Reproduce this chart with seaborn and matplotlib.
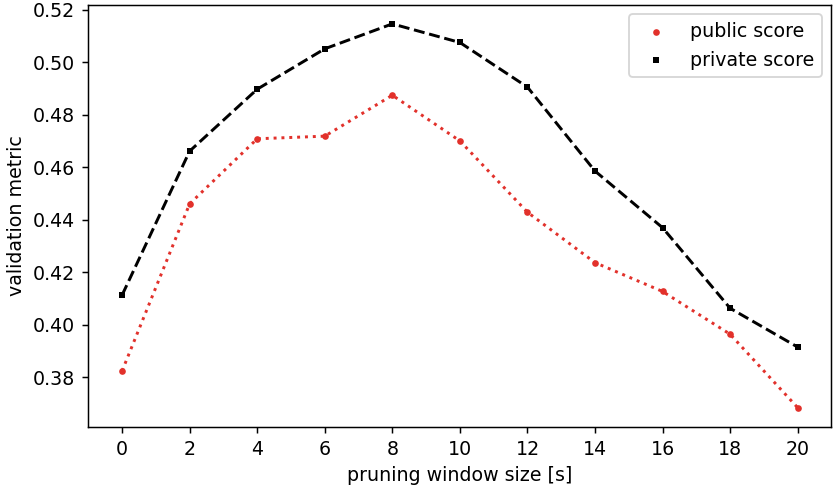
import numpy as np
import pandas as pd
import matplotlib
matplotlib.use("Agg")
import matplotlib.pyplot as plt
import seaborn as sns

# pruning window sizes and scores
window_size = [0, 2, 4, 6, 8, 10, 12, 14, 16, 18, 20]
public_score = [0.3823, 0.4460, 0.4708, 0.4718, 0.4874, 0.4700, 0.4428, 0.4236, 0.4126, 0.3963, 0.3683]
private_score = [0.4112, 0.4661, 0.4897, 0.5051, 0.5146, 0.5075, 0.4905, 0.4585, 0.4369, 0.4062, 0.3914]

red = "#e2312b"

df = pd.DataFrame({"window": window_size, "public": public_score, "private": private_score})

plt.rcParams["font.size"] = 10.3

fig, ax = plt.subplots(figsize=(6.25, 3.67), dpi=133.3)

sns.lineplot(data=df, x="window", y="public", ax=ax, color=red, linestyle=":", linewidth=1.6)
sns.scatterplot(data=df, x="window", y="public", ax=ax, color=red, marker="o", s=13,
                edgecolor=red, linewidth=0, label="public score", zorder=3)
sns.lineplot(data=df, x="window", y="private", ax=ax, color="black", linestyle="--", linewidth=1.6)
sns.scatterplot(data=df, x="window", y="private", ax=ax, color="black", marker="s", s=11,
                edgecolor="black", linewidth=0, label="private score", zorder=3)

ax.set_xticks(window_size)
ax.set_yticks([0.38, 0.40, 0.42, 0.44, 0.46, 0.48, 0.50, 0.52])
ax.set_xlabel("pruning window size [s]")
ax.set_ylabel("validation metric")
ax.legend(loc="upper right")

fig.subplots_adjust(left=0.106, right=0.998, top=0.99, bottom=0.127)
plt.savefig("out.png", dpi=133.3)
